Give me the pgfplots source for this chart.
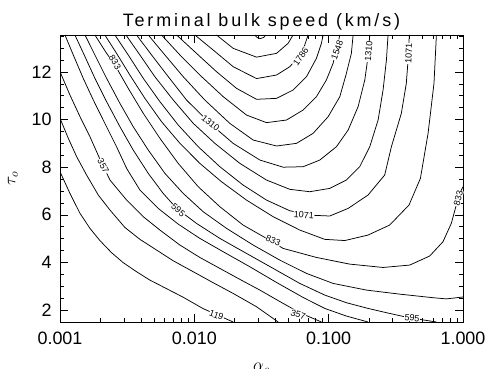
\documentclass[border=0pt]{standalone}
\usepackage{pgfplots}
\pgfplotsset{compat=1.18}
\usepackage{fontspec}
\setmainfont{Liberation Sans}
\begin{document}
\begin{tikzpicture}
\useasboundingbox (-60bp,-47bp) rectangle (428bp,322bp);
\begin{axis}[
  at={(0,0)}, anchor=south west,
  scale only axis, width=403bp, height=287bp,
  xmin=-3, xmax=0, ymin=1.5, ymax=13.55,
  xtick={-3,-2,-1,0}, xticklabels={0.001,0.010,0.100,1.000},
  minor xtick={-2.69897,-2.52288,-2.39794,-2.30103,-2.22185,-2.15490,-2.09691,-2.04576,
               -1.69897,-1.52288,-1.39794,-1.30103,-1.22185,-1.15490,-1.09691,-1.04576,
               -0.69897,-0.52288,-0.39794,-0.30103,-0.22185,-0.15490,-0.09691,-0.04576},
  ytick={2,4,6,8,10,12},
  minor ytick={2.5,3,3.5,4.5,5,5.5,6.5,7,7.5,8.5,9,9.5,10.5,11,11.5,12.5,13,13.5},
  tick align=inside,
  major tick length=8bp, minor tick length=4bp,
  tick style={black, line width=0.6pt},
  axis line style={line width=0.8pt},
  ticklabel style={font=\fontsize{18}{18}\selectfont},
  /pgf/number format/assume math mode=true,
  xticklabel style={yshift=-6bp},
  yticklabel style={xshift=-5bp},
  clip mode=individual,
  cycle list={{black, solid, line width=0.75pt}},
  every axis plot post/.append style={black, solid, line width=0.75pt, mark=none},
]
% level 1 (119)
\addplot coordinates {(-3.000,7.81)(-2.926,6.90)(-2.851,6.06)(-2.777,5.43)(-2.703,4.92)(-2.616,4.41)(-2.529,3.99)(-2.430,3.61)(-2.331,3.26)(-2.207,2.90)(-2.083,2.54)(-1.934,2.06)(-1.822,1.78)(-1.711,1.50)};
% level 2 (238)
\addplot coordinates {(-3.000,10.05)(-2.938,9.21)(-2.876,8.44)(-2.802,7.67)(-2.715,6.83)(-2.628,6.20)(-2.517,5.47)(-2.405,4.97)(-2.281,4.52)(-2.157,4.07)(-2.008,3.61)(-1.860,3.15)(-1.711,2.70)(-1.537,2.14)(-1.376,1.50)};
% level 3 (357)
\addplot coordinates {(-3.000,12.01)(-2.926,11.03)(-2.851,10.12)(-2.777,9.28)(-2.703,8.34)(-2.628,7.46)(-2.504,6.62)(-2.380,5.92)(-2.256,5.36)(-2.107,4.73)(-1.959,4.21)(-1.810,3.75)(-1.661,3.29)(-1.512,2.84)(-1.364,2.36)(-1.215,1.89)(-1.054,1.50)};
% level 4 (476)
\addplot coordinates {(-2.963,13.55)(-2.901,12.71)(-2.827,11.73)(-2.752,10.82)(-2.666,9.84)(-2.579,8.86)(-2.504,7.95)(-2.405,7.04)(-2.269,6.27)(-2.120,5.61)(-1.959,5.01)(-1.785,4.45)(-1.587,3.82)(-1.388,3.16)(-1.190,2.53)(-1.029,2.07)(-0.868,1.75)(-0.707,1.50)};
% level 5 (595)
\addplot coordinates {(-2.889,13.55)(-2.814,12.64)(-2.740,11.73)(-2.653,10.75)(-2.554,9.70)(-2.455,8.72)(-2.343,7.74)(-2.232,6.90)(-2.132,6.27)(-1.984,5.64)(-1.810,5.01)(-1.612,4.38)(-1.413,3.75)(-1.215,3.12)(-1.029,2.63)(-0.868,2.31)(-0.707,2.07)(-0.546,1.86)(-0.434,1.72)(-0.322,1.61)(-0.198,1.50)};
% level 6 (714)
\addplot coordinates {(-2.814,13.55)(-2.740,12.71)(-2.653,11.73)(-2.554,10.68)(-2.455,9.70)(-2.343,8.72)(-2.219,7.74)(-2.083,6.90)(-1.934,6.13)(-1.760,5.43)(-1.562,4.73)(-1.364,4.10)(-1.165,3.54)(-0.967,3.12)(-0.719,2.84)(-0.471,2.67)(-0.223,2.52)(-0.124,2.47)(0.000,2.55)};
% level 7 (833)
\addplot coordinates {(-2.740,13.55)(-2.653,12.78)(-2.591,12.29)(-2.492,11.31)(-2.380,10.26)(-2.256,9.21)(-2.120,8.16)(-1.971,7.18)(-1.810,6.34)(-1.637,5.57)(-1.463,5.01)(-1.339,4.59)(-1.091,4.21)(-0.843,3.93)(-0.595,3.79)(-0.397,3.89)(-0.248,4.27)(-0.149,4.87)(-0.087,5.64)(-0.050,6.41)(-0.025,6.90)(0.000,7.18)};
% level 8 (952)
\addplot coordinates {(-2.666,13.55)(-2.579,12.78)(-2.480,11.87)(-2.368,10.89)(-2.244,9.91)(-2.107,9.00)(-1.959,8.16)(-1.798,7.39)(-1.612,6.62)(-1.413,5.92)(-1.215,5.36)(-1.029,4.97)(-0.880,4.92)(-0.707,5.15)(-0.546,5.57)(-0.402,6.41)(-0.317,7.53)(-0.260,9.42)(-0.216,11.52)(-0.198,13.55)};
% level 9 (1071)
\addplot coordinates {(-2.591,13.55)(-2.492,12.71)(-2.380,11.73)(-2.256,10.75)(-2.120,9.77)(-1.971,8.86)(-1.810,8.02)(-1.637,7.25)(-1.463,6.62)(-1.289,6.17)(-1.116,5.98)(-0.992,5.95)(-0.855,6.27)(-0.707,6.83)(-0.583,7.67)(-0.533,8.86)(-0.459,10.26)(-0.422,11.52)(-0.405,12.78)(-0.400,13.55)};
% level 10 (1190)
\addplot coordinates {(-2.509,13.55)(-2.405,12.71)(-2.294,11.80)(-2.157,10.82)(-2.008,9.84)(-1.847,9.00)(-1.661,8.16)(-1.463,7.46)(-1.289,7.07)(-1.141,6.97)(-0.992,7.11)(-0.868,7.46)(-0.769,8.02)(-0.694,8.86)(-0.632,9.98)(-0.595,11.24)(-0.570,12.50)(-0.558,13.55)};
% level 11 (1310)
\addplot coordinates {(-2.430,13.55)(-2.318,12.71)(-2.194,11.80)(-2.058,10.82)(-1.884,9.84)(-1.711,9.00)(-1.512,8.30)(-1.339,8.00)(-1.190,8.02)(-1.066,8.30)(-0.942,8.86)(-0.855,9.56)(-0.781,10.54)(-0.731,11.66)(-0.707,12.64)(-0.694,13.55)};
% level 12 (1429)
\addplot coordinates {(-2.343,13.55)(-2.219,12.71)(-2.083,11.80)(-1.922,10.82)(-1.736,9.84)(-1.562,9.14)(-1.388,8.89)(-1.240,9.00)(-1.116,9.42)(-1.004,10.12)(-0.917,10.96)(-0.868,11.94)(-0.831,12.78)(-0.818,13.55)};
% level 13 (1548)
\addplot coordinates {(-2.244,13.55)(-2.107,12.71)(-1.959,11.87)(-1.785,10.96)(-1.612,10.19)(-1.463,9.87)(-1.314,9.98)(-1.190,10.40)(-1.091,10.96)(-1.017,11.66)(-0.967,12.36)(-0.937,13.06)(-0.917,13.55)};
% level 14 (1667)
\addplot coordinates {(-2.132,13.55)(-1.984,12.78)(-1.835,12.01)(-1.686,11.31)(-1.537,10.85)(-1.388,10.89)(-1.265,11.24)(-1.165,11.80)(-1.091,12.57)(-1.054,13.20)(-1.041,13.55)};
% level 15 (1786)
\addplot coordinates {(-1.996,13.55)(-1.860,12.92)(-1.711,12.22)(-1.537,11.72)(-1.388,11.87)(-1.289,12.22)(-1.215,12.71)(-1.178,13.13)(-1.153,13.55)};
% level 16 (1905)
\addplot coordinates {(-1.835,13.55)(-1.711,12.99)(-1.537,12.62)(-1.388,12.78)(-1.302,13.20)(-1.265,13.55)};
% level 17 (2024)
\addplot coordinates {(-1.550,13.55)(-1.532,13.44)(-1.508,13.40)(-1.483,13.45)(-1.468,13.55)};

\begin{scope}[every node/.style={font=\fontsize{9}{9}\selectfont, fill=white, inner sep=0.5pt}]
\node[rotate=-20] at (axis cs:-1.835,1.79) {119};
\node[rotate=-62] at (axis cs:-2.678,8.05) {357};
\node[rotate=-18] at (axis cs:-1.227,1.82) {357};
\node[rotate=-40] at (axis cs:-2.120,6.20) {595};
\node[rotate=-6] at (axis cs:-0.379,1.68) {595};
\node[rotate=-58] at (axis cs:-2.591,12.40) {833};
\node[rotate=-22] at (axis cs:-1.413,4.92) {833};
\node[rotate=75] at (axis cs:-0.035,6.69) {833};
\node[rotate=-4] at (axis cs:-1.185,5.99) {1071};
\node[rotate=88] at (axis cs:-0.404,12.78) {1071};
\node[rotate=-38] at (axis cs:-1.879,9.84) {1310};
\node[rotate=85] at (axis cs:-0.703,12.85) {1310};
\node[rotate=70] at (axis cs:-0.937,12.92) {1548};
\node[rotate=55] at (axis cs:-1.208,12.64) {1786};
\end{scope}

\node[anchor=base, font=\fontsize{18}{18}\selectfont\addfontfeature{LetterSpace=16}] at (rel axis cs:0.5,1) [yshift=8bp] {Terminal bulk speed (km/s)};
\node[anchor=north, font=\fontsize{17}{17}\selectfont] at (rel axis cs:0.5,0) [yshift=-38bp] {$\alpha_o$};
\node[xshift=-47bp, rotate=90, anchor=center, font=\fontsize{17}{17}\selectfont] at (rel axis cs:0,0.5) {$\tau_o$};
\end{axis}
\end{tikzpicture}
\end{document}
